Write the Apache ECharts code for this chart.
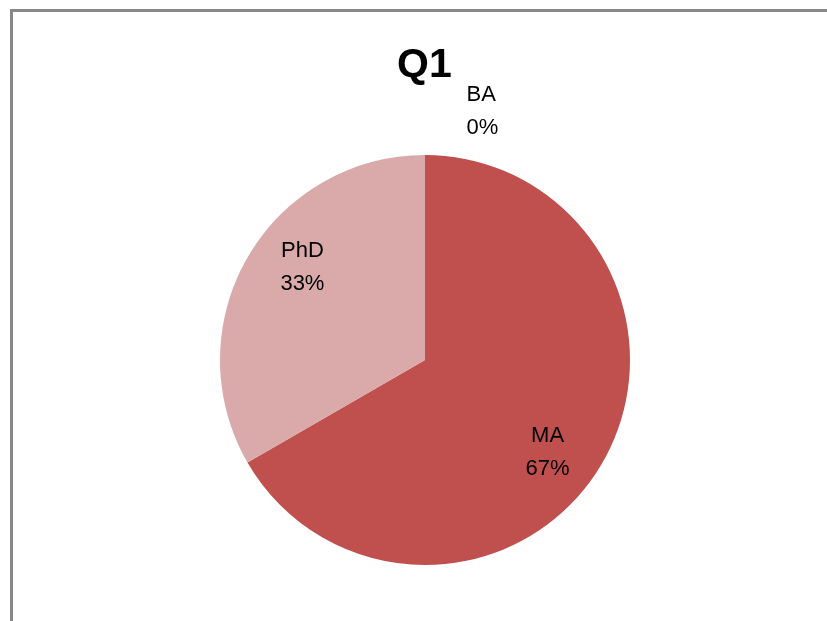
<!DOCTYPE html>
<html>
<head>
<meta charset="utf-8">
<script src="https://cdn.jsdelivr.net/npm/echarts@6/dist/echarts.min.js"></script>
<style>
  html, body { margin: 0; padding: 0; background: #fff; }
  #frame {
    position: absolute; left: 10px; top: 9px; width: 830px; height: 620px;
    border-left: 3px solid #888; border-top: 3px solid #888;
  }
  #chart { position: absolute; left: 0; top: 0; width: 827px; height: 621px; }
</style>
</head>
<body>
<div id="frame"></div>
<div id="chart"></div>
<script>
const categories = ["BA", "MA", "PhD"];
const values = [0, 2, 1];
const colors = ["#4F81BD", "#C0504D", "#D9AAA9"];
const titleText = "Q1";

const pieData = categories.map((name, i) => ({
  name,
  value: values[i],
  itemStyle: { color: colors[i] },
}));

// invisible copy of the pie that only carries the labels,
// so they sit further out than the default inside position
const labelData = categories.map((name, i) => ({
  name,
  value: values[i],
  label:
    values[i] === 0
      ? { position: "outside", distance: 5 }
      : { position: "inside" },
  labelLine: { show: false, length: 45, length2: 6 },
}));

const chart = echarts.init(document.getElementById("chart"));
chart.setOption({
  animation: false,
  title: {
    text: titleText,
    left: 392,
    top: 40,
    textStyle: {
      fontFamily: "Liberation Sans",
      fontSize: 41,
      fontWeight: "bold",
      color: "#000",
    },
  },
  series: [
    {
      type: "pie",
      center: [425, 360],
      radius: 205,
      startAngle: 90,
      clockwise: true,
      avoidLabelOverlap: false,
      label: { show: false },
      labelLine: { show: false },
      emphasis: { disabled: true },
      data: pieData,
    },
    {
      type: "pie",
      silent: true,
      center: [425, 360],
      radius: [96, 205],
      startAngle: 83,
      clockwise: true,
      avoidLabelOverlap: false,
      itemStyle: { color: "rgba(0,0,0,0)" },
      label: {
        show: true,
        formatter: (p) => p.name + "\n" + Math.round(p.percent) + "%",
        fontFamily: "Liberation Sans",
        fontSize: 22,
        lineHeight: 33,
        color: "#000",
      },
      emphasis: { disabled: true },
      data: labelData,
    },
  ],
});
</script>
</body>
</html>
